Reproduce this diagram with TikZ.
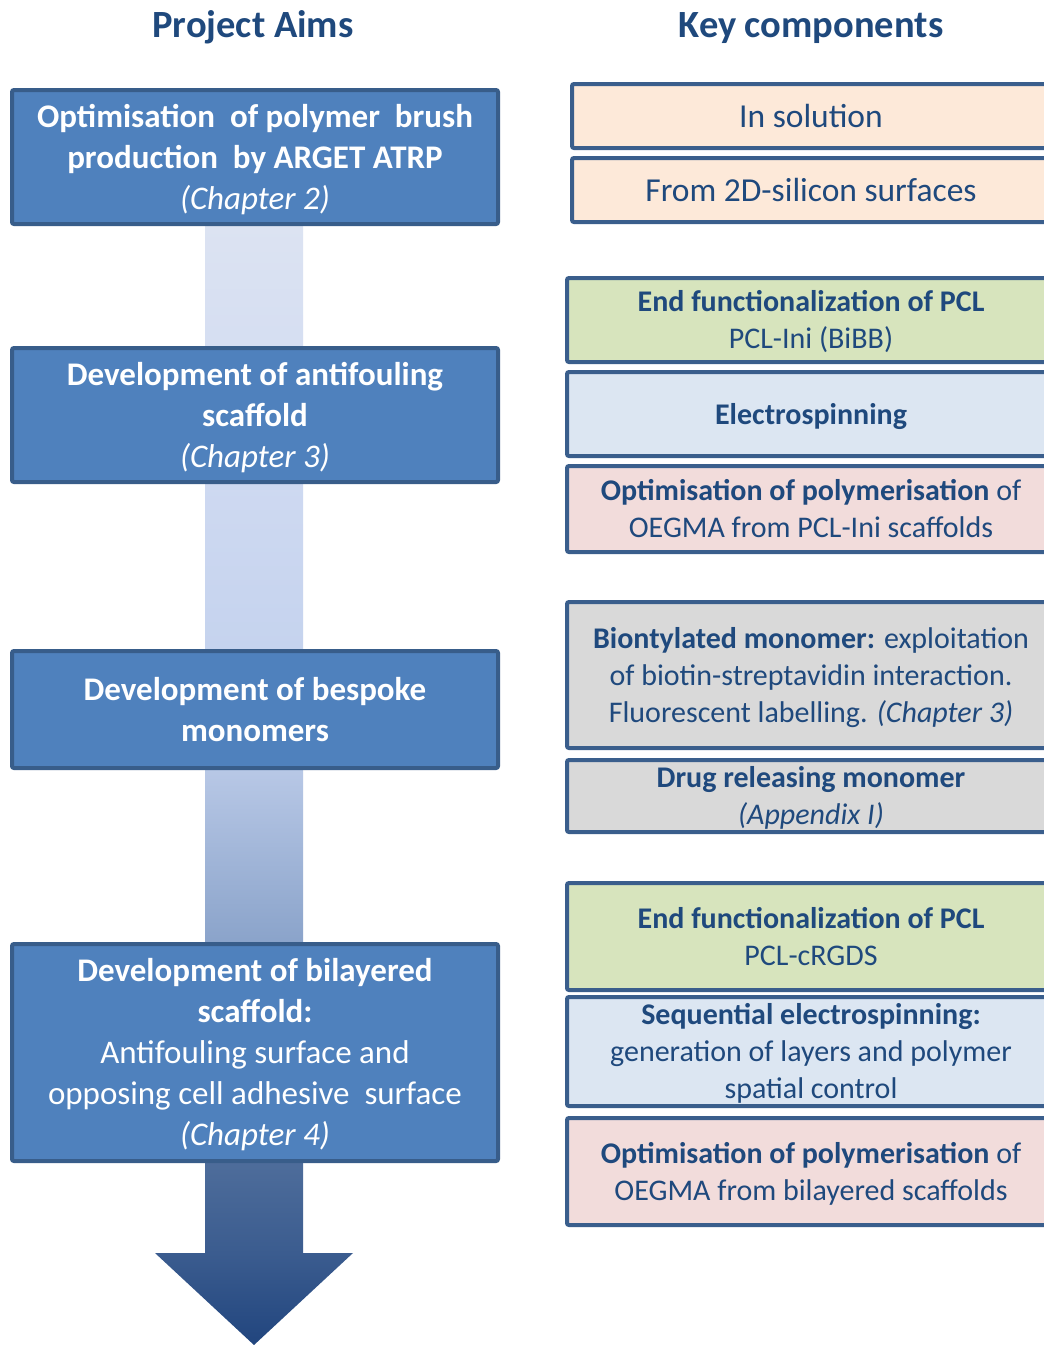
\documentclass[tikz,border=0pt]{standalone}
\usepackage{fontspec}
\setmainfont{Carlito}
\definecolor{aimfill}{HTML}{4F81BD}
\definecolor{aimline}{HTML}{385D8A}
\definecolor{keyline}{HTML}{3A5E8C}
\definecolor{keytext}{HTML}{1F497D}
\definecolor{peach}{HTML}{FDE9D9}
\definecolor{leaf}{HTML}{D7E4BD}
\definecolor{sky}{HTML}{DCE6F2}
\definecolor{rose}{HTML}{F2DCDB}
\definecolor{ash}{HTML}{D9D9D9}
% colours along the arrow, bottom to top
\definecolor{shA}{HTML}{21457E}
\definecolor{shB}{HTML}{3B5C8F}
\definecolor{shC}{HTML}{4E6D9B}
\definecolor{shD}{HTML}{8AA3CA}
\definecolor{shE}{HTML}{B8C8E6}
\definecolor{shF}{HTML}{C5D3EE}
\definecolor{shG}{HTML}{CED9F1}
\definecolor{shH}{HTML}{DCE3F2}
\pgfdeclareverticalshading{aimshade}{100bp}{%
  color(0bp)=(shA); color(25bp)=(shA); color(29.1bp)=(shB);
  color(33.2bp)=(shC); color(42.9bp)=(shD); color(50.7bp)=(shE);
  color(56bp)=(shF); color(63.5bp)=(shG); color(75bp)=(shH);
  color(100bp)=(shH)}
\begin{document}
\begin{tikzpicture}[x=1pt,y=-1pt,
    every node/.style={align=center,inner sep=0pt},
    aimbox/.style={draw=aimline,line width=4pt,rounded corners=2pt,fill=aimfill,
      text=white,minimum width=486pt,text depth=1pt,font=\fontsize{33}{41}\selectfont},
    keybox/.style={draw=keyline,line width=4pt,rounded corners=2pt,
      text=keytext,minimum width=488pt,text depth=1pt,font=\fontsize{30}{37}\selectfont},
    headline/.style={text=keytext,font=\fontsize{38.5}{46}\selectfont\bfseries,anchor=base}]
\useasboundingbox (0,0) rectangle (1044,1345);
\clip (0,0) rectangle (1044,1345);
\fill[white] (0,0) rectangle (1044,1345);
% shaded arrow behind the aims
\path[shading=aimshade] (205,224) -- (303,224) -- (303,1253) -- (353,1253)
  -- (254,1345) -- (155,1253) -- (205,1253) -- cycle;
\node[headline] (t1) at (253,37) {Project Aims};
\node[headline] (t2) at (811,37) {Key components};
\node[aimbox,minimum height=134pt] (a1) at (255,157) {\textbf{Optimisation\ \ of polymer\ \ brush}\\
  \textbf{production\ \ by ARGET ATRP}\\\textit{(Chapter 2)}};
\node[aimbox,minimum height=134pt] (a2) at (255,415) {\textbf{Development of antifouling}\\
  \textbf{scaffold}\\\textit{(Chapter 3)}};
\node[aimbox,minimum height=117pt] (a3) at (255,709.5) {\textbf{Development of bespoke}\\\textbf{monomers}};
\node[aimbox,minimum height=217pt] (a4) at (255,1052.5) {\textbf{Development of bilayered}\\
  \textbf{scaffold:}\\Antifouling surface and\\opposing cell adhesive\ \ surface\\\textit{(Chapter 4)}};
\node[keybox,fill=peach,minimum width=478pt,minimum height=64pt,font=\fontsize{33.5}{41}\selectfont]
  (k1) at (811,116) {In solution};
\node[keybox,fill=peach,minimum width=478pt,minimum height=64pt,font=\fontsize{33.5}{41}\selectfont]
  (k2) at (811,190) {From 2D-silicon surfaces};
\node[keybox,fill=leaf,minimum height=84pt] (k3) at (811,320) {\textbf{End functionalization of PCL}\\PCL-Ini (BiBB)};
\node[keybox,fill=sky,minimum height=84pt] (k4) at (811,414) {\textbf{Electrospinning}};
\node[keybox,fill=rose,minimum height=86pt] (k5) at (811,509) {\textbf{Optimisation of polymerisation} of\\
  OEGMA from PCL-Ini scaffolds};
\node[keybox,fill=ash,minimum height=146pt] (k6) at (811,675) {\textbf{Biontylated monomer:} exploitation\\
  of biotin-streptavidin interaction.\\Fluorescent labelling. \textit{(Chapter 3)}};
\node[keybox,fill=ash,minimum height=72pt] (k7) at (811,796) {\textbf{Drug releasing monomer}\\\textit{(Appendix I)}};
\node[keybox,fill=leaf,minimum height=107pt] (k8) at (811,936.5) {\textbf{End functionalization of PCL}\\PCL-cRGDS};
\node[keybox,fill=sky,minimum height=109pt] (k9) at (811,1051.5) {\textbf{Sequential electrospinning:}\\
  generation of layers and polymer\\spatial control};
\node[keybox,fill=rose,minimum height=107pt] (k10) at (811,1171.5) {\textbf{Optimisation of polymerisation} of\\
  OEGMA from bilayered scaffolds};
\end{tikzpicture}
\end{document}
